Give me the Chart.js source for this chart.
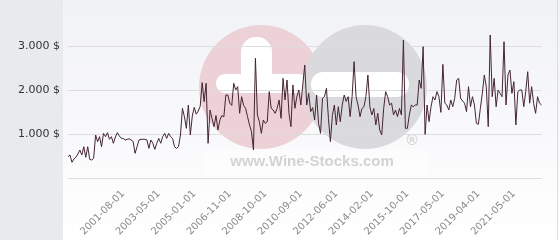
<!DOCTYPE html>
<html>
<head>
<meta charset="utf-8">
<script src="https://cdn.jsdelivr.net/npm/chart.js@4.4.1/dist/chart.umd.min.js"></script>
<style>
  html, body { margin: 0; padding: 0; background: #fff; }
</style>
</head>
<body>
<canvas id="price_chart" width="560" height="240"></canvas>
<script>
// prices in $, one point per sale
var prices = [
  484, 523, 357, 432, 470, 545, 636, 523, 711, 470,
  711, 425, 409, 447, 977, 825, 939, 711, 1015, 939,
  1030, 880, 939, 788, 930, 1030, 955, 902, 900, 864,
  880, 890, 864, 830, 561, 711, 864, 880, 880, 880,
  864, 674, 864, 790, 651, 790, 900, 790, 939, 1015,
  900, 1015, 939, 900, 711, 674, 711, 977, 1583, 1394,
  1129, 1659, 977, 1409, 1606, 1450, 1520, 1630, 2167, 1735,
  2152, 788, 1545, 1350, 1167, 1420, 1091, 1320, 1420, 1390,
  1886, 1886,
  1700, 1650, 2152, 2000, 2075, 1470, 1848, 1650, 1583, 1394,
  1205, 1053, 636, 2720, 1432, 1280, 1015, 1318, 1242, 1280,
  1962, 1583, 1545, 1470, 1583, 1773, 1356, 2265, 1773, 2227,
  1470, 1167, 2114, 1583, 1848,
  2000, 1659, 2114, 2568, 1659, 1924, 1508, 1600, 1318, 1886,
  1242, 1015, 1811, 1850, 2038, 1356, 826, 1420, 1659, 1205,
  1620, 1280, 1659, 1886, 1740, 1848, 1394, 1848, 2644, 1848,
  1659, 1394, 1580, 1620, 1848, 2341, 1620, 1432, 1580, 1205,
  1470, 1091, 977, 1580, 1962, 1848, 1659, 1700, 1432, 1545,
  1394, 1580, 1432, 3136, 1129, 1129, 1432, 1659, 1620, 1659,
  1659, 2227, 2038, 2985, 992, 1659, 1280, 1620, 1848, 1773,
  1962, 1848, 1492, 2583, 1700, 1659, 1545, 1773, 1620, 1811,
  2227, 2265, 1811, 1750, 1700, 1508, 2075, 1620, 1848, 1659,
  1242, 1220, 1580, 1924, 2341, 2075, 1167, 3250, 1848, 2265,
  1620, 2000, 1924, 1848, 3098, 1659, 2341, 2454, 1924, 2189,
  1205, 1962, 2000, 2000, 1620, 1962, 2416, 1700, 2075, 1700,
  1470, 1848, 1700, 1659
];

var tickLabels = [
  "2001-08-01", "2003-05-01", "2005-01-01", "2006-11-01",
  "2008-10-01", "2010-09-01", "2012-06-01", "2014-02-01",
  "2015-10-01", "2017-05-01", "2019-04-01", "2021-05-01"
];
var firstTick = 27;  // point index of the first dated label
var tickStep = 18;   // points between dated labels

var yTicks = [0, 1000, 2000, 3000];

var labels = prices.map(function (v, i) {
  var k = (i - firstTick) / tickStep;
  return (k >= 0 && k % 1 === 0 && k < tickLabels.length) ? tickLabels[k] : "";
});

function money(v) {
  return String(v).replace(/\B(?=(\d{3})+(?!\d))/g, ".") + " $";
}

// page background + wine-stocks watermark
var backdrop = {
  id: "backdrop",
  beforeDraw: function (chart) {
    var c = chart.ctx;
    c.save();
    c.fillStyle = "#e8ebee";
    c.fillRect(0, 0, 63, 240);
    var g = c.createLinearGradient(0, 0, 0, 240);
    g.addColorStop(0, "#f1f2f6");
    g.addColorStop(1, "#ffffff");
    c.fillStyle = g;
    c.fillRect(63, 0, 497, 240);
    c.fillStyle = "#dcdcdc";
    c.fillRect(557, 0, 1, 240);

    c.fillStyle = "#ecd2d7";
    c.beginPath(); c.arc(261, 87, 62, 0, Math.PI * 2); c.fill();
    c.fillStyle = "#ffffff";
    c.beginPath(); c.roundRect(241, 37, 31, 56, 15); c.fill();
    c.beginPath(); c.roundRect(216, 74, 92, 19, 9); c.fill();

    c.fillStyle = "#dadadc";
    c.beginPath(); c.arc(365, 87, 62, 0, Math.PI * 2); c.fill();
    c.fillStyle = "#ffffff";
    c.beginPath(); c.roundRect(311, 72, 98, 25, 12); c.fill();

    c.fillStyle = "rgba(255,255,255,0.45)";
    c.fillRect(205, 150, 223, 25);
    c.fillStyle = "#d3d3d3";
    c.font = "bold 15px 'Liberation Sans'";
    c.textAlign = "center";
    c.textBaseline = "alphabetic";
    c.fillText("www.Wine-Stocks.com", 312, 166);
    c.fillText("\u00ae", 412, 145);
    c.restore();
  }
};

var ctx = document.getElementById("price_chart").getContext("2d");
var price_chart = new Chart(ctx, {
  type: "line",
  data: {
    labels: labels,
    datasets: [
      {
        data: prices,
        borderColor: "#452533",
        borderWidth: 1,
        pointRadius: 0,
        tension: 0,
        fill: false
      }
    ]
  },
  options: {
    responsive: false,
    animation: false,
    layout: { padding: { top: 24, right: 5, left: 0, bottom: 0 } },
    plugins: {
      legend: { display: false },
      tooltip: { enabled: false }
    },
    scales: {
      x: {
        grid: { display: false, drawTicks: false },
        border: { display: false },
        ticks: {
          autoSkip: false,
          minRotation: 45,
          maxRotation: 45,
          padding: 10,
          labelOffset: 2,
          color: "#8a8a8a",
          font: { family: "DejaVu Sans", size: 10 }
        },
        afterFit: function (s) { s.height = 62; }
      },
      y: {
        min: 0,
        max: 3500,
        afterBuildTicks: function (s) {
          s.ticks = yTicks.map(function (v) { return { value: v }; });
        },
        grid: { color: "#dddddd", drawTicks: false },
        border: { display: false },
        ticks: {
          padding: 8,
          color: "#333333",
          font: { family: "DejaVu Sans", size: 11 },
          callback: function (v) { return v === 0 ? "" : money(v); }
        },
        afterFit: function (s) { s.width = 68; }
      }
    }
  },
  plugins: [backdrop]
});
</script>
</body>
</html>
